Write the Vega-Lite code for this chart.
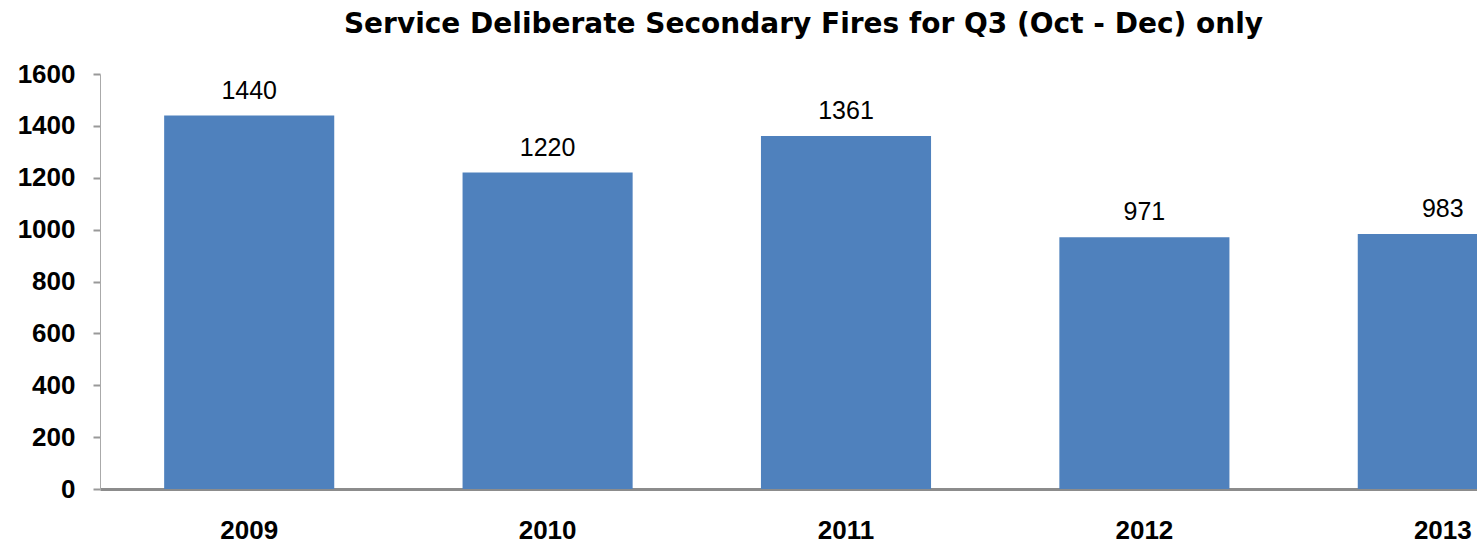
{
  "$schema": "https://vega.github.io/schema/vega-lite/v6.json",
  "autosize": {"type": "none"},
  "padding": {"left": 100, "top": 74, "right": 0, "bottom": 54},
  "width": 1377,
  "height": 415,
  "background": "white",
  "title": {
    "text": "Service Deliberate Secondary Fires for Q3 (Oct - Dec) only",
    "font": "DejaVu Sans",
    "fontSize": 28,
    "fontWeight": "bold",
    "color": "black",
    "anchor": "middle",
    "offset": 22,
    "dx": 15
  },
  "data": {
    "values": [
      {"year": "2009", "fires": 1440},
      {"year": "2010", "fires": 1220},
      {"year": "2011", "fires": 1361},
      {"year": "2012", "fires": 971},
      {"year": "2013", "fires": 983}
    ]
  },
  "encoding": {
    "x": {
      "field": "year",
      "type": "nominal",
      "sort": null,
      "scale": {"range": [0, 1492], "paddingInner": 0.43, "paddingOuter": 0.215},
      "axis": {
        "title": null,
        "labelAngle": 0,
        "labelFont": "Liberation Sans",
        "labelFontSize": 26,
        "labelFontWeight": "bold",
        "labelColor": "black",
        "labelPadding": 28,
        "ticks": false,
        "domainColor": "#8c8c8c",
        "domainWidth": 3,
        "grid": false
      }
    },
    "y": {
      "field": "fires",
      "type": "quantitative",
      "scale": {"domain": [0, 1600]},
      "axis": {
        "title": null,
        "format": "d",
        "values": [0, 200, 400, 600, 800, 1000, 1200, 1400, 1600],
        "labelFont": "Liberation Sans",
        "labelFontSize": 26,
        "labelFontWeight": "bold",
        "labelColor": "black",
        "labelPadding": 18,
        "tickSize": 7,
        "tickColor": "#999999",
        "tickWidth": 2,
        "domainColor": "#aaaaaa",
        "domainWidth": 1,
        "grid": false
      }
    }
  },
  "layer": [
    {"mark": {"type": "bar", "color": "#4f81bd", "clip": true}},
    {
      "mark": {"type": "text", "font": "Liberation Sans", "fontSize": 25, "color": "black", "baseline": "alphabetic", "dy": -17},
      "encoding": {"text": {"field": "fires", "type": "quantitative"}}
    }
  ],
  "config": {"view": {"stroke": null}}
}
